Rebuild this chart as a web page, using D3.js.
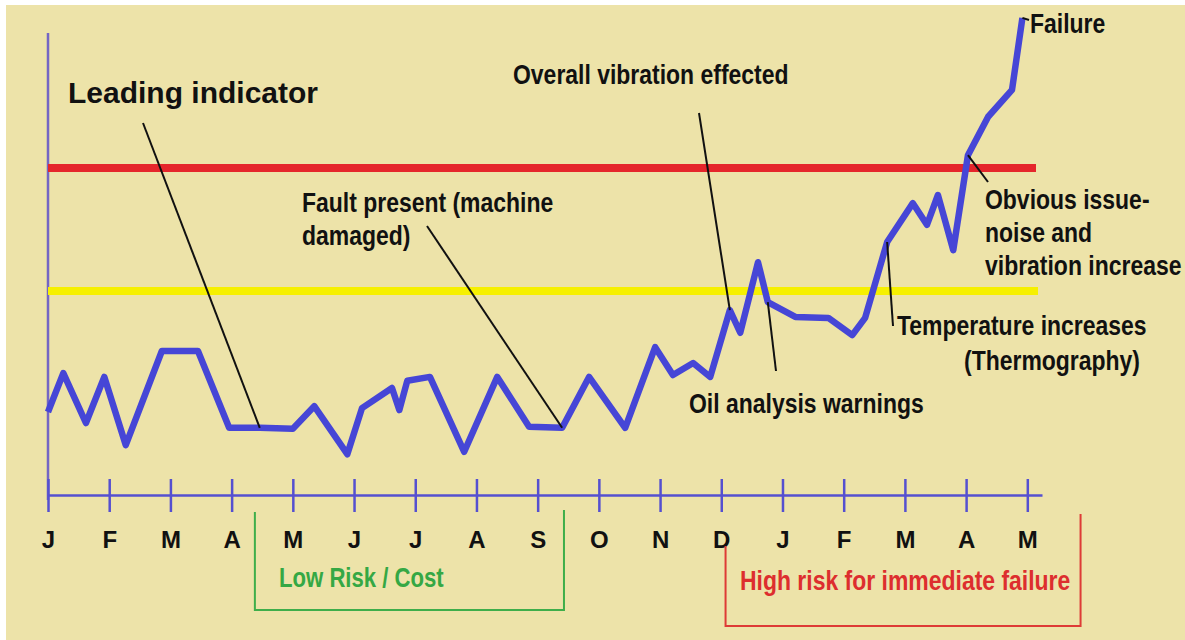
<!DOCTYPE html>
<html>
<head>
<meta charset="utf-8">
<script src="https://cdn.jsdelivr.net/npm/d3@7"></script>
<style>
  body { margin: 0; background: #fff; }
  svg { display: block; }
</style>
</head>
<body>
<svg id="chart"></svg>
<script>
// month tick labels (Jan .. May of the next year)
let months = ["J", "F", "M", "A", "M", "J", "J", "A", "S", "O", "N", "D", "J", "F", "M", "A", "M"];

// position in months from the first tick, and the measured level
let monthPos = [0, 0.25, 0.62, 0.92, 1.27, 1.86, 2.45, 2.96, 3.46, 4.0, 4.35, 4.89, 5.13, 5.62, 5.74, 5.87,
  6.24, 6.8, 7.34, 7.86, 8.4, 8.84, 9.43, 9.92, 10.21, 10.54, 10.82, 11.14, 11.31, 11.6, 11.76, 12.21,
  12.75, 13.14, 13.35, 13.71, 14.13, 14.36, 14.54, 14.79, 15.03, 15.36, 15.75, 15.92];
let level = [17.3, 25.4, 15.0, 24.6, 10.4, 30.0, 30.0, 14.0, 14.0, 13.8, 18.5, 8.5, 18.1, 22.3, 17.7, 23.8,
  24.6, 9.0, 24.6, 14.2, 14.0, 24.6, 14.0, 30.8, 25.0, 27.5, 24.6, 38.5, 33.8, 48.5, 40.2, 37.1,
  36.9, 33.3, 36.9, 52.7, 60.8, 56.3, 62.5, 51.0, 70.8, 78.8, 84.4, 99.4];

// alarm levels
let alarmLevel = 68.1;
let alertLevel = 42.5;

let width = 1185;
let height = 640;

let svg = d3.select("#chart")
  .attr("width", width)
  .attr("height", height);

// фон
svg.append("rect")
  .attr("x", 6).attr("y", 5)
  .attr("width", width - 6).attr("height", height - 5)
  .attr("fill", "#ede3a9");

let x = d3.scaleLinear().domain([0, 16.24]).range([48, 1042]);
let y = d3.scaleLinear().domain([0, 100]).range([495, 15]);

let fontFamily = "'Liberation Sans', Arial, sans-serif";

// текст, сжатый по горизонтали (как Arial Narrow)
let addText = (tx, ty, lines, size, sx, color) => {
  let g = svg.append("g")
    .attr("transform", `translate(${tx},${ty}) scale(${sx},1)`);
  let t = g.append("text")
    .attr("fill", color)
    .style("font-family", fontFamily)
    .style("font-weight", "bold")
    .style("font-size", size + "px");
  lines.forEach((s, i) => {
    t.append("tspan").attr("x", 0).attr("y", i * 33).text(s);
  });
  return t;
}

// вертикальная ось
svg.append("line")
  .attr("x1", x(0)).attr("x2", x(0))
  .attr("y1", 33).attr("y2", 500)
  .attr("stroke", "#7466c4")
  .attr("stroke-width", 2.5);

// горизонтальная ось
let xAxis = svg.append("g")
  .attr("transform", `translate(0, ${y(0)})`)
  .call(d3.axisBottom(x)
    .tickValues(d3.range(months.length))
    .tickFormat(i => months[i])
    .tickSizeOuter(0));

xAxis.select(".domain")
  .attr("stroke", "#5550d0")
  .attr("stroke-width", 2.5);

xAxis.selectAll(".tick line")
  .attr("y1", -16)
  .attr("y2", 17)
  .attr("stroke", "#5550d0")
  .attr("stroke-width", 2.5);

xAxis.selectAll(".tick text")
  .attr("y", 53)
  .attr("dy", null)
  .attr("fill", "#111")
  .style("font-family", fontFamily)
  .style("font-weight", "bold")
  .style("font-size", "24px");

// уровни тревоги
svg.append("line")
  .attr("x1", x(0)).attr("x2", 1036)
  .attr("y1", y(alarmLevel)).attr("y2", y(alarmLevel))
  .attr("stroke", "#e5262b")
  .attr("stroke-width", 8);

svg.append("line")
  .attr("x1", x(0)).attr("x2", 1038)
  .attr("y1", y(alertLevel)).attr("y2", y(alertLevel))
  .attr("stroke", "#f6f000")
  .attr("stroke-width", 8);

// линия вибрации
let line = d3.line()
  .x((d, i) => x(monthPos[i]))
  .y(d => y(d));

svg.append("path")
  .attr("d", line(level))
  .attr("fill", "none")
  .attr("stroke", "#4646d6")
  .attr("stroke-width", 6.5)
  .attr("stroke-linejoin", "round");

// подписи с выносками: from = начало выноски, to = индекс точки
let notes = [
  { lines: ["Leading indicator"], tx: 68, ty: 103, size: 30, sx: 1, from: [143, 123], to: 8 },
  { lines: ["Fault present (machine", "damaged)"], tx: 302, ty: 212, size: 28, sx: 0.82, from: [427, 226], to: 20 },
  { lines: ["Overall vibration effected"], tx: 513, ty: 84, size: 28, sx: 0.82, from: [699, 113], to: 27 },
  { lines: ["Oil analysis warnings"], tx: 689, ty: 413, size: 28, sx: 0.82, from: [776, 371], to: 30 },
  { lines: ["Temperature increases"], tx: 897, ty: 335, size: 28, sx: 0.82, from: [893, 326], to: 35 },
  { lines: ["(Thermography)"], tx: 964, ty: 370, size: 28, sx: 0.82 },
  { lines: ["Obvious issue-", "noise and", "vibration increase"], tx: 985, ty: 209, size: 28, sx: 0.82, from: [988, 182], to: 40 },
  { lines: ["Failure"], tx: 1030, ty: 33, size: 28, sx: 0.82, from: [1029, 20], to: 43 }
];

notes.forEach(n => {
  if (n.from) {
    svg.append("line")
      .attr("x1", n.from[0]).attr("y1", n.from[1])
      .attr("x2", x(monthPos[n.to])).attr("y2", y(level[n.to]))
      .attr("stroke", "#111")
      .attr("stroke-width", 2);
  }
  addText(n.tx, n.ty, n.lines, n.size, n.sx, "#111");
});

// скобки зон риска
svg.append("path")
  .attr("d", `M${x(3.38)},512 V610 H${x(8.43)} V510`)
  .attr("fill", "none")
  .attr("stroke", "#3fae4a")
  .attr("stroke-width", 2);

addText(279, 587, ["Low Risk / Cost"], 27, 0.82, "#35a844");

svg.append("path")
  .attr("d", `M${x(11.07)},546 V626 H${x(16.87)} V514`)
  .attr("fill", "none")
  .attr("stroke", "#de3b36")
  .attr("stroke-width", 2);

addText(740, 590, ["High risk for immediate failure"], 28, 0.82, "#dd2e2e");
</script>
</body>
</html>
